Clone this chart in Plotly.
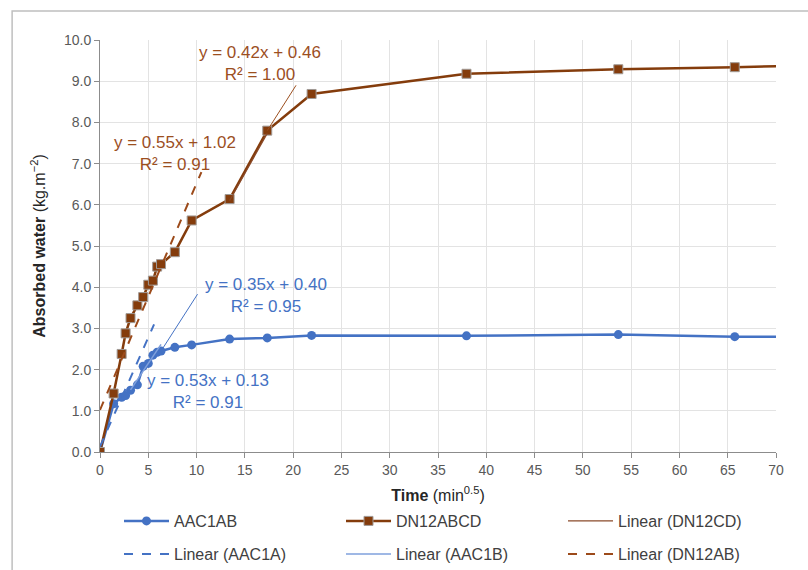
import plotly.graph_objects as go

# ---- data (time in min^0.5, absorbed water in kg.m-2) ----
time_x = [0, 1.41, 2.24, 2.65, 3.16, 3.87, 4.47, 5.00, 5.48, 5.92, 6.32, 7.75, 9.49,
          13.42, 17.32, 21.91, 37.95, 53.67, 65.73, 75.89]
aac1ab = [0, 1.17, 1.33, 1.37, 1.50, 1.63, 2.08, 2.15, 2.35, 2.42, 2.45, 2.54, 2.60,
          2.74, 2.77, 2.83, 2.82, 2.85, 2.80, 2.80]
dn12abcd = [0, 1.42, 2.38, 2.88, 3.25, 3.56, 3.76, 4.06, 4.16, 4.50, 4.56, 4.85, 5.62,
            6.14, 7.80, 8.69, 9.18, 9.29, 9.34, 9.40]

# trendlines: (slope, intercept, x start, x end, label text, R2)
tr_aac1a = (0.53, 0.13, 0.0, 5.6, "y = 0.53x + 0.13", "R² = 0.91")
tr_aac1b = (0.35, 0.40, 3.16, 6.32, "y = 0.35x + 0.40", "R² = 0.95")
tr_dn12ab = (0.55, 1.02, 0.0, 10.5, "y = 0.55x + 1.02", "R² = 0.91")
tr_dn12cd = (0.42, 0.46, 13.42, 17.32, "y = 0.42x + 0.46", "R² = 1.00")

x_ticks = list(range(0, 75, 5))
y_ticks = [i * 1.0 for i in range(0, 11)]

BLUE = "#4472C4"
BROWN = "#843C0C"
LBLUE = "#7fa0dc"
LBROWN = "#9c4f1f"
FONT = "Liberation Sans, Arial, sans-serif"


def line_pts(t):
    m, b, x0, x1 = t[0], t[1], t[2], t[3]
    return [x0, x1], [m * x0 + b, m * x1 + b]


fig = go.Figure()

fig.add_trace(go.Scatter(x=time_x, y=aac1ab, mode="lines+markers", name="AAC1AB",
                         legend="legend",
                         line=dict(color=BLUE, width=2.5),
                         marker=dict(symbol="circle", size=9, color=BLUE)))
fig.add_trace(go.Scatter(x=time_x, y=dn12abcd, mode="lines+markers", name="DN12ABCD",
                         legend="legend2",
                         line=dict(color=BROWN, width=2.5),
                         marker=dict(symbol="square", size=9, color=BROWN,
                                     line=dict(color="#a09a96", width=1))))

xs, ys = line_pts(tr_dn12cd)
fig.add_trace(go.Scatter(x=xs, y=ys, mode="lines", name="Linear (DN12CD)",
                         legend="legend3",
                         line=dict(color="#8a4a2a", width=1.2)))
xs, ys = line_pts(tr_aac1a)
fig.add_trace(go.Scatter(x=xs, y=ys, mode="lines", name="Linear (AAC1A)",
                         legend="legend4",
                         line=dict(color=BLUE, width=2, dash="dash")))
xs, ys = line_pts(tr_aac1b)
fig.add_trace(go.Scatter(x=xs, y=ys, mode="lines", name="Linear (AAC1B)",
                         legend="legend5",
                         line=dict(color=LBLUE, width=1.5)))
xs, ys = line_pts(tr_dn12ab)
fig.add_trace(go.Scatter(x=xs, y=ys, mode="lines", name="Linear (DN12AB)",
                         legend="legend6",
                         line=dict(color="#9c4a1a", width=2, dash="dash")))

# trendline labels
labels = [
    (tr_dn12cd, 16.6, 9.42, LBROWN),
    (tr_dn12ab, 7.8, 7.24, LBROWN),
    (tr_aac1b, 17.2, 3.79, BLUE),
    (tr_aac1a, 11.2, 1.46, BLUE),
]
for t, lx, ly, col in labels:
    fig.add_annotation(x=lx, y=ly, xref="x", yref="y", showarrow=False,
                       text=t[4] + "<br>" + t[5], align="center",
                       font=dict(family=FONT, size=17, color=col))

# leader lines from trendline ends to labels
fig.add_shape(type="line", xref="x", yref="y", x0=tr_dn12cd[3], y0=dn12abcd[14],
              x1=20.3, y1=8.9, line=dict(color=LBROWN, width=1))
fig.add_shape(type="line", xref="x", yref="y", x0=tr_aac1b[3], y0=aac1ab[10],
              x1=10.1, y1=3.83, line=dict(color=BLUE, width=1))

# chart outer border
fig.add_shape(type="rect", xref="paper", yref="paper", x0=-0.13, y0=-0.6, x1=1.2, y1=1.0704,
              line=dict(color="#bfbfbf", width=1.5), layer="below")

legend_common = dict(orientation="h", xref="container", yref="container",
                     xanchor="left", yanchor="middle",
                     font=dict(family=FONT, size=16, color="#404040"),
                     itemwidth=45, bgcolor="rgba(0,0,0,0)")
col_px = [119, 341, 563]
row_px = [521, 554]
legends = {}
names = ["legend", "legend2", "legend3", "legend4", "legend5", "legend6"]
for i, nm in enumerate(names):
    legends[nm] = dict(x=col_px[i % 3] / 808, y=1 - row_px[i // 3] / 570, **legend_common)

fig.update_layout(
    width=808, height=570,
    margin=dict(l=100, r=32, t=40, b=118, autoexpand=False),
    paper_bgcolor="white", plot_bgcolor="white",
    font=dict(family=FONT, size=14, color="#595959"),
    showlegend=True,
    **legends,
    xaxis=dict(range=[0, 70], tickmode="array", tickvals=x_ticks,
               ticktext=[str(v) for v in x_ticks],
               showgrid=True, gridcolor="#e3e3e3", gridwidth=1,
               showline=True, linecolor="#8c8c8c", linewidth=1,
               ticks="outside", ticklen=5, tickcolor="#8c8c8c",
               zeroline=False,
               tickfont=dict(family=FONT, size=14, color="#595959"),
               title=dict(text="<b>Time</b> (min<sup>0.5</sup>)", standoff=16,
                          font=dict(family=FONT, size=16, color="#262626"))),
    yaxis=dict(range=[0, 10], tickmode="array", tickvals=y_ticks,
               ticktext=["%.1f" % v for v in y_ticks],
               showgrid=True, gridcolor="#e3e3e3", gridwidth=1,
               showline=True, linecolor="#8c8c8c", linewidth=1,
               ticks="outside", ticklen=5, tickcolor="#8c8c8c",
               zeroline=False,
               tickfont=dict(family=FONT, size=14, color="#595959"),
               title=dict(text="<b>Absorbed water</b> (kg.m<sup>−2</sup>)", standoff=14,
                          font=dict(family=FONT, size=16, color="#262626"))),
)

fig.write_html("out.html")
